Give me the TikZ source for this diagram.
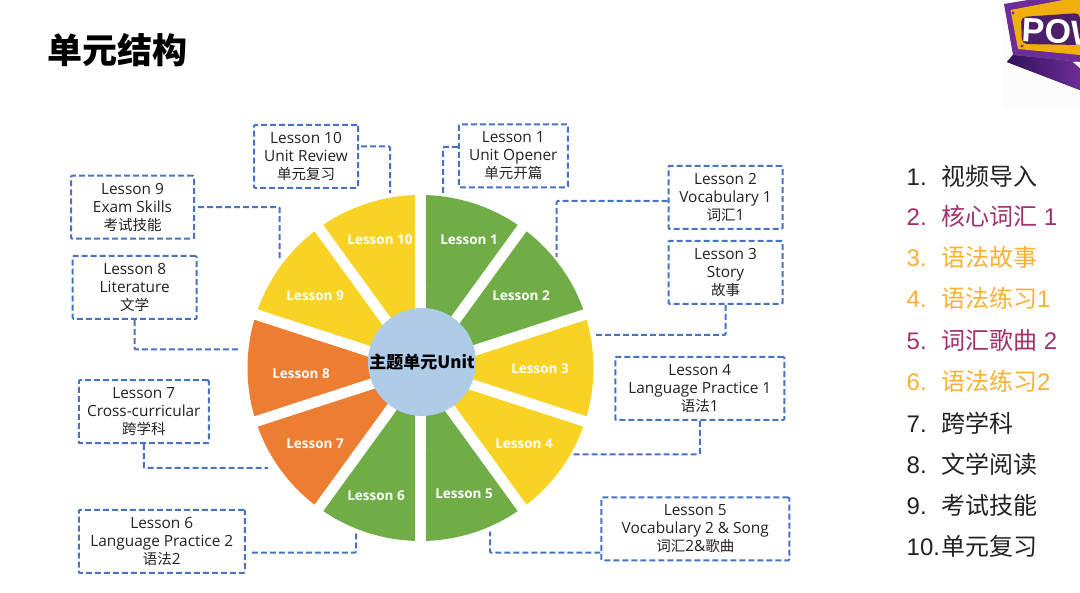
\documentclass[tikz,border=0pt]{standalone}
\usepackage{xcolor}
\usepackage{fontspec}
\setmainfont{Open Sans}
\newfontfamily\cjk{Noto Sans CJK SC}
\newfontfamily\listfont{Liberation Sans}
\newcommand{\zh}[1]{{\cjk #1}}
\newcommand{\zhbox}[1]{{\cjk\fontsize{14.5}{18}\selectfont #1}}
\usepackage{tikz}
\usetikzlibrary{positioning, calc}
\definecolor{slgreen}{RGB}{112,173,71}
\definecolor{slyellow}{RGB}{249,211,35}
\definecolor{slorange}{RGB}{237,125,49}
\definecolor{hubblue}{RGB}{174,203,232}
\definecolor{linkblue}{RGB}{72,114,196}
\definecolor{plum}{RGB}{160,48,110}
\definecolor{amber}{RGB}{251,176,52}
\definecolor{dkgray}{RGB}{34,34,34}
\definecolor{logopurple}{RGB}{108,45,150}
\definecolor{logodark}{RGB}{50,16,92}
\definecolor{logoyellow}{RGB}{240,175,10}
\tikzset{
    lessonbox/.style={rectangle, rounded corners=1pt, draw=linkblue, line width=2pt,
                      dash pattern=on 6pt off 3pt, minimum height=63pt, inner sep=0pt,
                      align=center, text=dkgray, font=\fontsize{15.4}{18}\selectfont},
    slicelabel/.style={font=\fontsize{13.5}{16}\selectfont\bfseries, text=white},
    link/.style={draw=linkblue, line width=2pt, dash pattern=on 6pt off 3pt, rounded corners=1pt},
    listitem/.style={anchor=west, inner sep=0pt, font=\fontsize{24}{28}\selectfont\listfont},
}
\begin{document}
\begin{tikzpicture}[x=1pt, y=-1pt]
    \useasboundingbox (0,0) rectangle (1080,593);

    % Title
    \node[anchor=west, inner sep=0pt, font=\fontsize{35}{40}\selectfont\cjk\bfseries, text=black] (title) at (47,50) {单元结构};

    % Logo
    \begin{scope}
        \clip (1000,0) rectangle (1080,107);
        \fill[black!1] (1003,0) rectangle (1080,107);
        \fill[left color=logodark, right color=logopurple] (1007,62) -- (1013,55) -- (1080,62) -- (1080,90) -- cycle;
        \fill[logopurple] (1004,4) -- (1040,-2) -- (1080,-4) -- (1080,62) -- (1013,55) -- cycle;
        \fill[logoyellow] (1010.5,10) -- (1063,0) -- (1080,0) -- (1080,55) -- (1018,49) -- cycle;
        \fill[white] (1073,62) -- (1080,62) -- (1080,68) -- cycle;
        \fill[logopurple] (1013,13) circle[radius=1.6pt] (1022,46) circle[radius=1.6pt];
        \fill[logopurple!70!black, rounded corners=5pt] (1021,17) -- (1080,13) -- (1080,45) -- (1022,44) -- cycle;
        \node[anchor=west, inner sep=0pt, rotate=-3, font=\fontsize{34}{36}\selectfont\listfont\bfseries, text=white] (pow) at (1022,30) {POW};
    \end{scope}

    % Slices
    \begin{scope}[shift={(420.5,368)}, x=1pt, y=1pt]
        \foreach \slicecol/\slicefrom in {slgreen/54, slgreen/18, slyellow/-18, slyellow/-54, slgreen/-90,
                                          slgreen/-126, slorange/-162, slorange/162, slyellow/126, slyellow/90} {
            \fill[\slicecol] ({\slicefrom+18}:17.8pt) -- ({\slicefrom+1.82}:173pt)
                arc[start angle={\slicefrom+1.82}, end angle={\slicefrom+34.18}, radius=173pt] -- cycle;
        }
    \end{scope}

    % Hub
    \node[circle, fill=hubblue, minimum size=108pt, inner sep=0pt, font=\fontsize{17}{20}\selectfont\cjk\bfseries, text=black] (hub) at (422,362) {主题单元Unit};

    % Slice labels
    \node[slicelabel] (sone) at (469,240) {Lesson 1};
    \node[slicelabel] (stwo) at (521,296) {Lesson 2};
    \node[slicelabel] (sthree) at (540,369) {Lesson 3};
    \node[slicelabel] (sfour) at (524,444) {Lesson 4};
    \node[slicelabel] (sfive) at (464,494) {Lesson 5};
    \node[slicelabel] (ssix) at (376,496) {Lesson 6};
    \node[slicelabel] (sseven) at (315,444) {Lesson 7};
    \node[slicelabel] (seight) at (301,374) {Lesson 8};
    \node[slicelabel] (snine) at (315,296) {Lesson 9};
    \node[slicelabel] (sten) at (380,240) {Lesson 10};

    % Lesson boxes
    \node[lessonbox, minimum width=109pt] (boxone) at (513.3,155.8) {Lesson 1\\Unit Opener\\\zhbox{单元开篇}};
    \node[lessonbox, minimum width=114pt] (boxtwo) at (725.5,197.4) {Lesson 2\\Vocabulary 1\\\zhbox{词汇}1};
    \node[lessonbox, minimum width=114pt, below=10pt of boxtwo] (boxthree) {Lesson 3\\Story\\\zhbox{故事}};
    \node[lessonbox, minimum width=169pt] (boxfour) at (699.8,388.4) {Lesson 4\\Language Practice 1\\\zhbox{语法}1};
    \node[lessonbox, minimum width=188pt] (boxfive) at (695.3,528.8) {Lesson 5\\Vocabulary 2 \& Song\\\zhbox{词汇}2\&\zhbox{歌曲}};
    \node[lessonbox, minimum width=166pt] (boxsix) at (161.8,541.5) {Lesson 6\\Language Practice 2\\\zhbox{语法}2};
    \node[lessonbox, minimum width=130pt] (boxseven) at (143.8,411.7) {Lesson 7\\Cross-curricular\\\zhbox{跨学科}};
    \node[lessonbox, minimum width=123pt] (boxnine) at (132.5,207.2) {Lesson 9\\Exam Skills\\\zhbox{考试技能}};
    \node[lessonbox, minimum width=124pt, below=15.3pt of boxnine, xshift=2.2pt] (boxeight) {Lesson 8\\Literature\\\zhbox{文学}};
    \node[lessonbox, minimum width=104pt] (boxten) at (306,156.5) {Lesson 10\\Unit Review\\\zhbox{单元复习}};

    % Free ends at the slices
    \coordinate (endone) at (443,193);
    \coordinate (endtwo) at (556.7,257);
    \coordinate (endthree) at (595,335);
    \coordinate (endfour) at (573,454.3);
    \coordinate (endfive) at (490,531.7);
    \coordinate (endsix) at (356,531.7);
    \coordinate (endseven) at (268,468);
    \coordinate (endeight) at (240,349.3);
    \coordinate (endnine) at (279.7,260);
    \coordinate (endten) at (390,193);

    % Links
    \draw[link] (boxone.west |- 0,147) -| (endone);
    \draw[link] (boxtwo.west |- 0,201) -| (endtwo);
    \draw[link] (boxthree.south) |- (endthree);
    \draw[link] (boxfour.south) |- (endfour);
    \draw[link] (boxfive.west |- 0,552.7) -| (endfive);
    \draw[link] ([xshift=6pt]boxsix.east |- 0,552.7) -| (endsix);
    \draw[link] (boxseven.south) |- (endseven);
    \draw[link] (boxeight.south) |- (endeight);
    \draw[link] ([xshift=3pt]boxnine.east) -| (endnine);
    \draw[link] ([xshift=2pt]boxten.east |- 0,146.5) -| (endten);

    % List
    \foreach \idx/\itemy/\itemcol/\itemtext in {
        1/176/dkgray/{\zh{视频导入}}, 2/216/plum/{\zh{核心词汇} 1}, 3/257/amber/{\zh{语法故事}},
        4/298/amber/{\zh{语法练习}1}, 5/340/plum/{\zh{词汇歌曲} 2}, 6/381/amber/{\zh{语法练习}2},
        7/423/dkgray/{\zh{跨学科}}, 8/464/dkgray/{\zh{文学阅读}}, 9/505/dkgray/{\zh{考试技能}}} {
        \node[listitem, text=\itemcol] (item\idx) at (906.5,\itemy) {\makebox[34.5pt][l]{\idx.}\itemtext};
    }
    \node[listitem, text=dkgray] (item10) at (906.5,546) {\makebox[34.5pt][l]{10.}\zh{单元复习}};
\end{tikzpicture}
\end{document}
